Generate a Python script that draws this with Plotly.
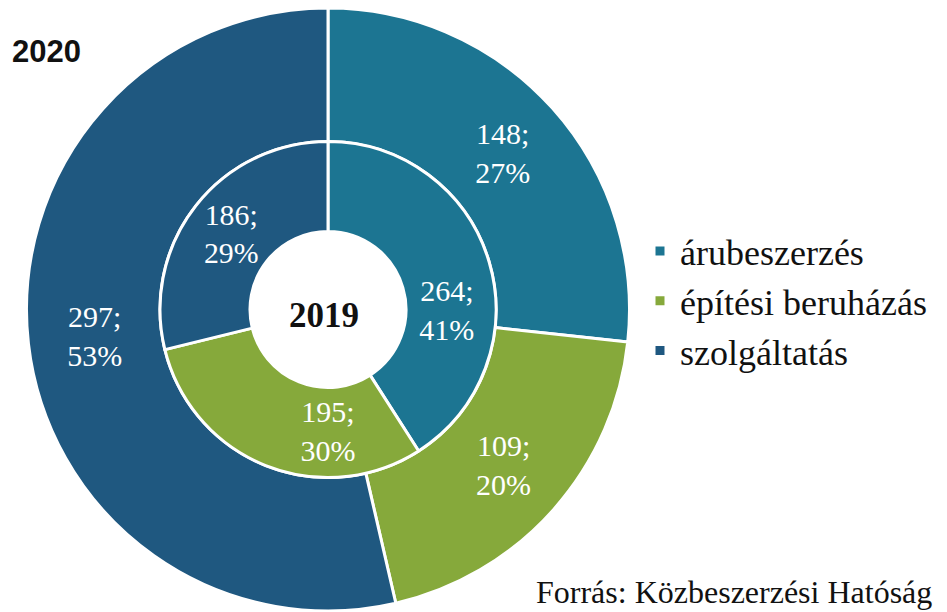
import plotly.graph_objects as go

categories = ["árubeszerzés", "építési beruházás", "szolgáltatás"]
values_2020 = [148, 109, 297]
pct_2020 = ["27%", "20%", "53%"]
values_2019 = [264, 195, 186]
pct_2019 = ["41%", "30%", "29%"]
colors = ["#1C7592", "#86A93B", "#1F5880"]

W, H = 947, 612
# page is offset by the default 8px body margin
cx, cy = 320, 310.5  # center in figure px (from left / from bottom)
R_out, R_in, R_hole = 301.5, 168, 78

def dom(r):
    return dict(x=[max(0, (cx - r) / W), min(1, (cx + r) / W)],
                y=[max(0, (cy - r) / H), min(1, (cy + r) / H)])

font_lbl = dict(family="Liberation Serif", size=30, color="white")

fig = go.Figure()
fig.add_trace(go.Pie(
    labels=categories, values=values_2020, sort=False, direction="clockwise", rotation=0,
    hole=R_in / R_out, domain=dom(R_out),
    marker=dict(colors=colors, line=dict(color="white", width=3)),
    text=[f"{v};<br>{p}" for v, p in zip(values_2020, pct_2020)],
    textinfo="text", textposition="inside", insidetextorientation="horizontal",
    textfont=font_lbl, hoverinfo="label+value", showlegend=True,
))
fig.add_trace(go.Pie(
    labels=categories, values=values_2019, sort=False, direction="clockwise", rotation=0,
    hole=R_hole / R_in, domain=dom(R_in),
    marker=dict(colors=colors, line=dict(color="white", width=3)),
    text=[f"{v};<br>{p}" for v, p in zip(values_2019, pct_2019)],
    textinfo="text", textposition="inside", insidetextorientation="horizontal",
    textfont=font_lbl, hoverinfo="label+value", showlegend=False,
))

fig.add_annotation(text="<b>2019</b>", x=316 / W, y=(H - 307) / H, xref="paper", yref="paper",
                   xanchor="center", yanchor="middle",
                   showarrow=False, font=dict(family="Liberation Serif", size=35, color="#111"))
fig.add_annotation(text="<b>2020</b>", x=2 / W, y=(H - 44) / H, xref="paper", yref="paper",
                   xanchor="left", yanchor="middle", showarrow=False,
                   font=dict(family="Liberation Sans", size=31, color="#111"))
fig.add_annotation(text="Forrás: Közbeszerzési Hatóság", x=526 / W, y=8 / H, xref="paper", yref="paper",
                   xanchor="left", yanchor="bottom", showarrow=False,
                   font=dict(family="Liberation Serif", size=32, color="#111"))

fig.update_layout(
    width=W, height=H, margin=dict(l=0, r=0, t=0, b=0),
    paper_bgcolor="white", plot_bgcolor="white",
    legend=dict(x=632 / W, y=(H - 213) / H, xanchor="left", yanchor="top",
                font=dict(family="Liberation Serif", size=36, color="#111"),
                tracegroupgap=0, itemwidth=30),
)
fig.write_html("out.html")
